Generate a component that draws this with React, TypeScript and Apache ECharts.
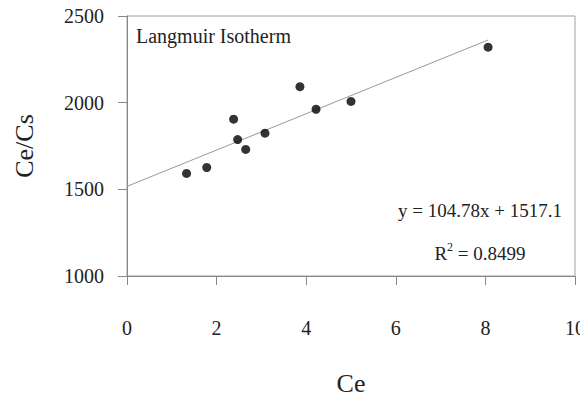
import React, { useEffect, useRef } from "react";
import * as echarts from "echarts";

const ceValues = [1.33, 1.78, 2.38, 2.47, 2.65, 3.08, 3.86, 4.22, 5.0, 8.06];
const ceCsValues = [1592, 1626, 1905, 1787, 1730, 1824, 2092, 1962, 2007, 2320];
const trendX = [0, 8.06];
const slope = 104.78;
const intercept = 1517.1;
const xTicks = [0, 10, 2];
const yTicks = [1000, 2500, 500];

const FONT = "Liberation Serif";

export default function App() {
  const ref = useRef<HTMLDivElement>(null);
  useEffect(() => {
    if (!ref.current) return;
    const chart = echarts.init(ref.current, undefined, { renderer: "svg" });
    const trendData = trendX.map((x) => [x, intercept + slope * x]);
    chart.setOption({
      animation: false,
      backgroundColor: "#fff",
      title: {
        text: "Langmuir Isotherm",
        left: 131,
        top: 21,
        textStyle: { fontFamily: FONT, fontSize: 20, fontWeight: "normal", color: "#222" },
      },
      grid: {
        left: 127,
        right: 8,
        top: 16,
        bottom: 120,
        show: true,
        borderColor: "#a0a0a0",
        borderWidth: 1,
      },
      xAxis: {
        type: "value",
        min: xTicks[0],
        max: xTicks[1],
        interval: xTicks[2],
        name: "Ce",
        nameLocation: "middle",
        nameGap: 94,
        nameTextStyle: { fontFamily: FONT, fontSize: 26, color: "#222" },
        axisLine: { show: true, lineStyle: { color: "#888", width: 1 } },
        axisTick: { show: true, inside: false, length: 9, lineStyle: { color: "#888" } },
        axisLabel: { margin: 42, fontFamily: FONT, fontSize: 20, color: "#222" },
        splitLine: { show: false },
      },
      yAxis: {
        type: "value",
        min: yTicks[0],
        max: yTicks[1],
        interval: yTicks[2],
        name: "Ce/Cs",
        nameLocation: "middle",
        nameGap: 90,
        nameTextStyle: { fontFamily: FONT, fontSize: 26, color: "#222" },
        axisLine: { show: true, lineStyle: { color: "#888", width: 1 } },
        axisTick: { show: true, inside: false, length: 9, lineStyle: { color: "#888" } },
        axisLabel: {
          margin: 23,
          fontFamily: FONT,
          fontSize: 20,
          color: "#222",
          formatter: (v: number) => String(v),
        },
        splitLine: { show: false },
      },
      series: [
        {
          type: "line",
          data: trendData,
          symbol: "none",
          lineStyle: { color: "#999", width: 1 },
          z: 2,
        },
        {
          type: "scatter",
          data: ceValues.map((x, i) => [x, ceCsValues[i]]),
          symbol: "circle",
          symbolSize: 9,
          itemStyle: { color: "#000" },
          z: 3,
        },
      ],
      graphic: [
        {
          type: "text",
          x: 480,
          y: 210,
          style: {
            text: "y = 104.78x + 1517.1",
            fontFamily: FONT,
            fontSize: 19,
            fill: "#222",
            align: "center",
            verticalAlign: "middle",
          },
        },
        {
          type: "text",
          x: 480,
          y: 253,
          style: {
            text: "R{sup|2} = 0.8499",
            fontFamily: FONT,
            fontSize: 19,
            fill: "#222",
            align: "center",
            verticalAlign: "middle",
            rich: {
              sup: { fontSize: 12, fontFamily: FONT, verticalAlign: "top", padding: [0, 0, 12, 0], fill: "#222" },
            },
          },
        },
      ],
    });
    return () => chart.dispose();
  }, []);
  return <div ref={ref} style={{ width: 588, height: 401, margin: -8 }} />;
}
